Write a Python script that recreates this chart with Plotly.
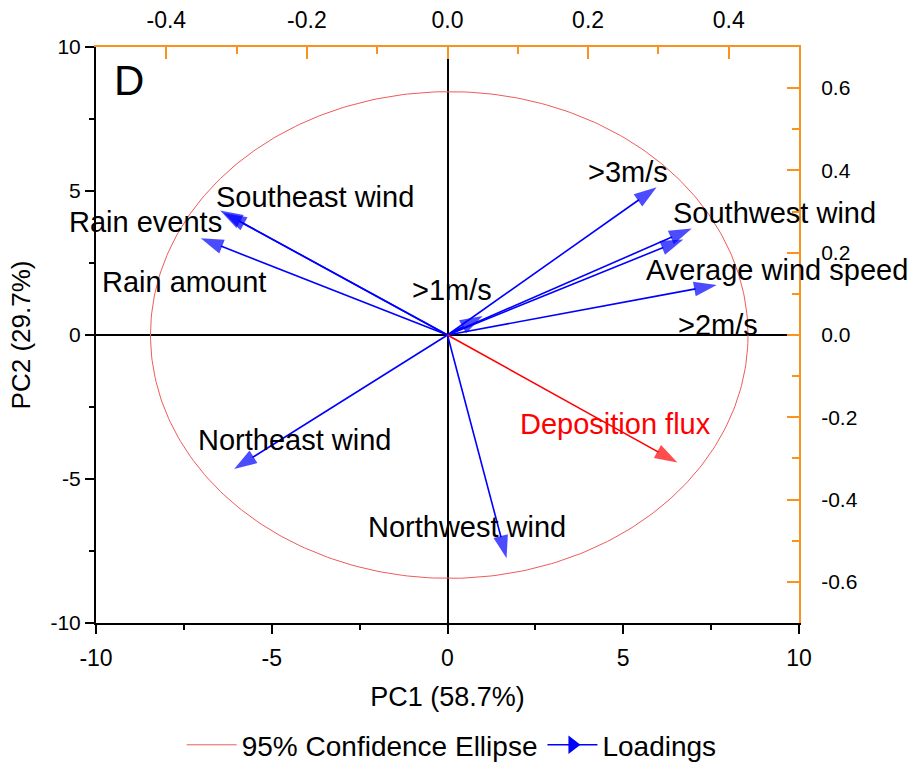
import numpy as np
import plotly.graph_objects as go

# ---- data ----
loading_names = ["Southeast wind", "Rain events", "Rain amount", ">1m/s", ">3m/s",
                 "Southwest wind", ">2m/s", "Average wind speed",
                 "Northeast wind", "Northwest wind", "Deposition flux"]
loading_pc1 = [-6.47, -7.02, -6.36, 1.00, 5.95, 6.95, 6.71, 7.66, -6.07, 1.68, 6.54]
loading_pc2 = [4.32, 3.36, 4.24, 0.66, 5.13, 3.70, 3.32, 1.74, -4.65, -7.75, -4.43]
loading_colors = ["#0000ff"] * 10 + ["#ff0000"]

label_texts = ["Southeast wind", "Rain events", "Rain amount", ">1m/s", ">3m/s",
               "Southwest wind", ">2m/s", "Average wind speed",
               "Northeast wind", "Northwest wind", "Deposition flux"]
label_pc1 = [-3.77, -8.58, -7.50, 0.13, 5.13, 9.29, 7.70, 9.37, -4.34, 0.55, 4.79]
label_pc2 = [4.79, 3.92, 1.84, 1.56, 5.66, 4.24, 0.35, 2.26, -3.65, -6.67, -3.09]
label_colors = ["black"] * 10 + ["#ff0000"]

ellipse_center = [0.05, 0.0]
ellipse_radii = [8.5, 8.45]

x_ticks = [-10, -5, 0, 5, 10]
x_ticktext = ["-10", "-5", "0", "5", "10"]
y_ticks = [-10, -5, 0, 5, 10]
y_ticktext = ["-10", "-5", "0", "5", "10"]
top_ticks = [-0.4, -0.2, 0.0, 0.2, 0.4]
top_ticktext = ["-0.4", "-0.2", "0.0", "0.2", "0.4"]
right_ticks = [-0.6, -0.4, -0.2, 0.0, 0.2, 0.4, 0.6]
right_ticktext = ["-0.6", "-0.4", "-0.2", "0.0", "0.2", "0.4", "0.6"]

ORANGE = "#f7931e"
FONT = "Liberation Sans"
NARROW = "Liberation Sans Narrow, Liberation Sans"

fig = go.Figure()

# confidence ellipse
t = np.linspace(0, 2 * np.pi, 361)
fig.add_trace(go.Scatter(
    x=ellipse_center[0] + ellipse_radii[0] * np.cos(t),
    y=ellipse_center[1] + ellipse_radii[1] * np.sin(t),
    mode="lines", line=dict(color="#f05a5a", width=1),
    name="95% Confidence Ellipse", hoverinfo="skip"))

# loading arrows
for name, px, py, c in zip(loading_names, loading_pc1, loading_pc2, loading_colors):
    fig.add_trace(go.Scatter(
        x=[0, px], y=[0, py], mode="lines+markers",
        line=dict(color=c, width=1.6),
        marker=dict(size=[0, 24], symbol=["circle", "arrow"], angleref="previous",
                    color=c, line=dict(width=0)),
        showlegend=False, name=name))

# legend proxy for loadings
fig.add_trace(go.Scatter(
    x=[None], y=[None], mode="lines+markers", name="Loadings",
    line=dict(color="#0000ff", width=1.6),
    marker=dict(symbol="triangle-right", size=16, color="#0000ff")))

# invisible trace for secondary axes
fig.add_trace(go.Scatter(x=[0], y=[0], xaxis="x2", yaxis="y2", mode="markers",
                         marker=dict(opacity=0), showlegend=False, hoverinfo="skip"))

# labels
for txt, lx, ly, c in zip(label_texts, label_pc1, label_pc2, label_colors):
    fig.add_annotation(x=lx, y=ly, xref="x", yref="y", text=txt, showarrow=False,
                       xanchor="center", yanchor="middle",
                       font=dict(family=FONT, size=29, color=c))

fig.add_annotation(x=0.047, y=0.941, xref="paper", yref="paper", text="D",
                   xanchor="center", yanchor="middle",
                   showarrow=False, font=dict(family=FONT, size=42, color="black"))

fig.update_layout(
    width=918, height=767,
    margin=dict(l=96, r=119, t=47, b=144, autoexpand=False),
    paper_bgcolor="white", plot_bgcolor="white",
    font=dict(family=FONT, color="black"),
    xaxis=dict(range=[-10, 10], tickvals=x_ticks, ticktext=x_ticktext,
               ticks="outside", ticklen=9,
               tickwidth=1.5, tickcolor="black", showline=True, linecolor="black",
               linewidth=2, showgrid=False, zeroline=True, zerolinecolor="black",
               zerolinewidth=1.6, tickfont=dict(family=NARROW, size=23),
               ticklabelstandoff=4,
               minor=dict(tickvals=[-7.5, -2.5, 2.5, 7.5], ticks="outside",
                          ticklen=5, tickwidth=1.5, tickcolor="black"),
               title=dict(text="PC1 (58.7%)", font=dict(family=NARROW, size=27),
                          standoff=18)),
    yaxis=dict(range=[-10, 10], tickvals=y_ticks, ticktext=y_ticktext,
               ticks="outside", ticklen=9,
               tickwidth=1.5, tickcolor="black", showline=True, linecolor="black",
               linewidth=2, showgrid=False, zeroline=True, zerolinecolor="black",
               zerolinewidth=1.6, tickfont=dict(family=FONT, size=21),
               minor=dict(tickvals=[-7.5, -2.5, 2.5, 7.5], ticks="outside",
                          ticklen=5, tickwidth=1.5, tickcolor="black"),
               title=dict(text="PC2 (29.7%)", font=dict(family=FONT, size=26),
                          standoff=12)),
    xaxis2=dict(overlaying="x", side="top", range=[-0.5, 0.5], tickvals=top_ticks,
                ticktext=top_ticktext, ticks="inside", ticklen=12, tickwidth=2,
                tickcolor=ORANGE, showline=True, linecolor=ORANGE, linewidth=2,
                showgrid=False, zeroline=False, ticklabelstandoff=8,
                tickfont=dict(family=NARROW, size=23),
                minor=dict(tickvals=[-0.3, -0.1, 0.1, 0.3], ticks="inside",
                           ticklen=7, tickwidth=2, tickcolor=ORANGE)),
    yaxis2=dict(overlaying="y", side="right", range=[-0.7, 0.7], tickvals=right_ticks,
                ticktext=right_ticktext, ticks="inside", ticklen=12, tickwidth=2,
                tickcolor=ORANGE, showline=True, linecolor=ORANGE, linewidth=2,
                showgrid=False, zeroline=False, ticklabelstandoff=16,
                tickfont=dict(family=FONT, size=21),
                minor=dict(tickvals=[-0.5, -0.3, -0.1, 0.1, 0.3, 0.5], ticks="inside",
                           ticklen=7, tickwidth=2, tickcolor=ORANGE)),
    legend=dict(orientation="h", x=0.506, xanchor="center", y=-0.212, yanchor="middle",
                font=dict(family=NARROW, size=28), bgcolor="rgba(0,0,0,0)",
                itemwidth=50),
    showlegend=True,
)

fig.write_html("out.html")
